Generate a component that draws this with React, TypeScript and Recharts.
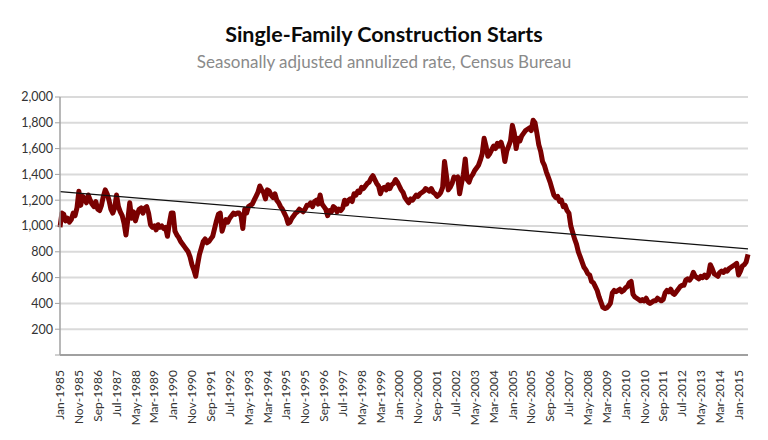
import {
  LineChart,
  Line,
  XAxis,
  YAxis,
  CartesianGrid,
  ReferenceLine,
} from "recharts";

// single-family starts, thousands, SAAR, monthly from Jan 1985
const starts = [
  990, 1100, 1090, 1040, 1060, 1030, 1050, 1100, 1080, 1140, 1270, 1160, // 1985
  1230, 1210, 1180, 1240, 1200, 1170, 1150, 1190, 1130, 1120, 1160, 1230, // 1986
  1280, 1250, 1200, 1130, 1100, 1140, 1240, 1150, 1110, 1080, 1020, 930, // 1987
  1050, 1180, 1060, 1110, 1040, 1090, 1130, 1140, 1100, 1140, 1150, 1100, // 1988
  1010, 990, 1000, 970, 1010, 990, 1000, 980, 990, 920, 1020, 1100, // 1989
  1100, 960, 930, 910, 880, 860, 840, 820, 800, 760, 700, 660, // 1990
  610, 700, 780, 830, 880, 900, 870, 880, 900, 920, 980, 1040, // 1991
  1090, 1100, 960, 1010, 1050, 1030, 1060, 1080, 1100, 1090, 1100, 1100, // 1992
  1080, 980, 1130, 1100, 1150, 1160, 1170, 1200, 1230, 1260, 1310, 1280, // 1993
  1260, 1210, 1280, 1270, 1240, 1220, 1250, 1200, 1180, 1150, 1130, 1100, // 1994
  1070, 1020, 1030, 1060, 1080, 1100, 1110, 1130, 1120, 1110, 1130, 1160, // 1995
  1160, 1180, 1150, 1190, 1200, 1170, 1240, 1170, 1150, 1130, 1080, 1120, // 1996
  1110, 1150, 1140, 1110, 1130, 1120, 1140, 1200, 1170, 1200, 1210, 1190, // 1997
  1250, 1240, 1270, 1260, 1300, 1290, 1310, 1330, 1340, 1370, 1390, 1360, // 1998
  1330, 1310, 1250, 1290, 1300, 1280, 1320, 1290, 1320, 1330, 1360, 1340, // 1999
  1310, 1280, 1260, 1220, 1200, 1180, 1210, 1200, 1220, 1240, 1230, 1250, // 2000
  1260, 1270, 1290, 1280, 1270, 1290, 1260, 1250, 1230, 1240, 1260, 1300, // 2001
  1500, 1390, 1280, 1300, 1330, 1380, 1370, 1380, 1250, 1330, 1400, 1520, // 2002
  1360, 1340, 1380, 1400, 1430, 1450, 1470, 1510, 1560, 1680, 1620, 1540, // 2003
  1560, 1590, 1620, 1600, 1640, 1620, 1650, 1600, 1500, 1580, 1620, 1660, // 2004
  1780, 1720, 1600, 1680, 1660, 1700, 1720, 1740, 1750, 1760, 1740, 1820, // 2005
  1800, 1720, 1630, 1580, 1500, 1470, 1420, 1380, 1340, 1290, 1240, 1220, // 2006
  1230, 1190, 1200, 1150, 1160, 1120, 1100, 1000, 950, 900, 860, 800, // 2007
  760, 720, 680, 660, 630, 620, 570, 560, 530, 500, 450, 410, // 2008
  370, 360, 365, 380, 400, 480, 500, 490, 500, 510, 490, 500, // 2009
  520, 530, 560, 570, 470, 450, 440, 430, 420, 430, 420, 440, // 2010
  410, 400, 410, 420, 420, 440, 430, 420, 430, 480, 500, 490, // 2011
  510, 480, 470, 490, 510, 530, 540, 540, 580, 590, 580, 600, // 2012
  640, 610, 600, 590, 610, 600, 620, 600, 620, 700, 670, 630, // 2013
  620, 610, 640, 650, 640, 660, 650, 670, 680, 690, 700, 710, // 2014
  620, 650, 690, 700, 720, 780, // 2015
];

const monthNames = ["Jan", "Feb", "Mar", "Apr", "May", "Jun", "Jul", "Aug", "Sep", "Oct", "Nov", "Dec"];
const startYear = 1985;

// linear trend, read at the first and last month
const trendEnds = [1267, 822];

const yTicks = [0, 200, 400, 600, 800, 1000, 1200, 1400, 1600, 1800, 2000];

const data = starts.map((v, i) => ({
  month: `${monthNames[i % 12]}-${startYear + Math.floor(i / 12)}`,
  starts: v,
}));

const FONT = "Lato, 'Open Sans', sans-serif";

function MonthTick({ x, y, payload }: any) {
  return (
    <g transform={`translate(${x},${y + 7})`}>
      <text
        x={0}
        y={0}
        dy="0.35em"
        textAnchor="end"
        transform="rotate(-90)"
        fill="#333"
        fontSize={12}
        fontFamily={FONT}
      >
        {payload.value}
      </text>
    </g>
  );
}

export default function App() {
  return (
    <div
      style={{
        position: "absolute",
        left: 0,
        top: 0,
        width: 768,
        height: 440,
        background: "#fff",
        fontFamily: FONT,
      }}
    >
      <div
        style={{
          position: "absolute",
          top: 21,
          width: 768,
          textAlign: "center",
          fontSize: 21.5,
          fontWeight: 700,
          color: "#0a0a0a",
        }}
      >
        Single-Family Construction Starts
      </div>
      <div
        style={{
          position: "absolute",
          top: 51,
          width: 768,
          textAlign: "center",
          fontSize: 17,
          color: "#8a8a8a",
        }}
      >
        Seasonally adjusted annulized rate, Census Bureau
      </div>
      <LineChart
        width={768}
        height={440}
        data={data}
        margin={{ top: 97, right: 20, bottom: 5, left: 10 }}
        style={{ position: "absolute", left: 0, top: 0 }}
      >
        <CartesianGrid vertical={false} stroke="#dadada" strokeWidth={2} />
        <XAxis
          xAxisId="minor"
          dataKey="month"
          interval={0}
          height={0}
          tick={() => <g />}
          axisLine={false}
          tickLine={{ stroke: "#b0b0b0" }}
          tickSize={4}
        />
        <XAxis
          dataKey="month"
          interval={9}
          height={80}
          axisLine={{ stroke: "#a0a0a0", strokeWidth: 2 }}
          tickLine={false}
          tick={<MonthTick />}
        />
        <YAxis
          domain={[0, 2000]}
          ticks={yTicks}
          width={50}
          axisLine={{ stroke: "#a0a0a0", strokeWidth: 1.5 }}
          tickLine={{ stroke: "#a0a0a0" }}
          tickSize={5}
          tick={{ fill: "#333", fontSize: 12.5, fontFamily: FONT }}
          tickFormatter={(v: number) => (v === 0 ? "" : v.toLocaleString("en-US"))}
        />
        <Line
          xAxisId={0}
          dataKey="starts"
          stroke="#7a0000"
          strokeWidth={5}
          strokeLinejoin="round"
          dot={false}
          type="linear"
          isAnimationActive={false}
        />
        <ReferenceLine
          segment={[
            { x: data[0].month, y: trendEnds[0] },
            { x: data[data.length - 1].month, y: trendEnds[1] },
          ]}
          stroke="#111"
          strokeWidth={1.2}
        />
      </LineChart>
    </div>
  );
}
